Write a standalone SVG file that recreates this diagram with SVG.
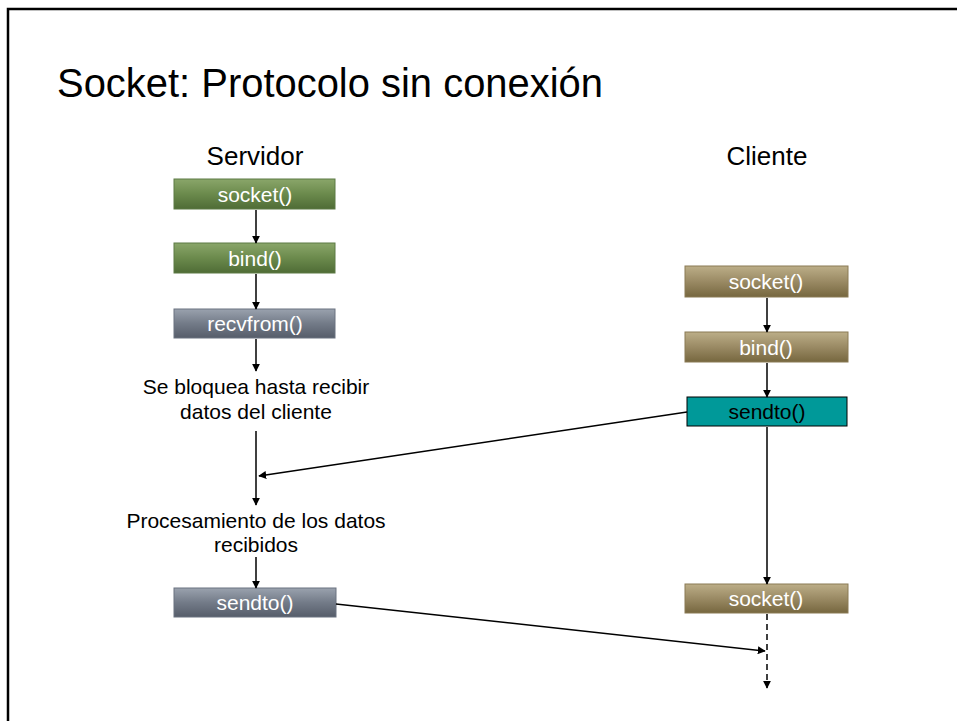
<svg xmlns="http://www.w3.org/2000/svg" width="957" height="721" viewBox="0 0 957 721">
  <style>
    .lbl { font-family: "Liberation Sans", Arial, sans-serif; font-size: 21px; fill: #ffffff; text-anchor: middle; }
    .lbl.dark { fill: #000000; }
    .txt { font-family: "Liberation Sans", Arial, sans-serif; font-size: 21px; fill: #000000; text-anchor: middle; }
    .head { font-family: "Liberation Sans", Arial, sans-serif; font-size: 26px; fill: #000000; text-anchor: middle; }
    .edge { stroke: #000000; stroke-width: 1.5; fill: none; marker-end: url(#arrow); }
    .dash { stroke-dasharray: 6 4; }
    .box { stroke-width: 1; }
  </style>
  <defs>
    <linearGradient id="gGreen" x1="0" y1="0" x2="0" y2="1">
      <stop offset="0" stop-color="#8aa66a"/>
      <stop offset="0.5" stop-color="#6b8a4c"/>
      <stop offset="1" stop-color="#4f6c36"/>
    </linearGradient>
    <linearGradient id="gSlate" x1="0" y1="0" x2="0" y2="1">
      <stop offset="0" stop-color="#9aa2ae"/>
      <stop offset="0.5" stop-color="#737b88"/>
      <stop offset="1" stop-color="#565d6a"/>
    </linearGradient>
    <linearGradient id="gTan" x1="0" y1="0" x2="0" y2="1">
      <stop offset="0" stop-color="#bcae88"/>
      <stop offset="0.5" stop-color="#9a8a64"/>
      <stop offset="1" stop-color="#76673f"/>
    </linearGradient>
    <marker id="arrow" viewBox="0 0 10 10" refX="9" refY="5" markerWidth="8" markerHeight="8" orient="auto" markerUnits="userSpaceOnUse">
      <path d="M0,0 L10,5 L0,10 z" fill="#000000"/>
    </marker>
  </defs>

  <rect width="957" height="721" fill="#ffffff"/>
  <!-- slide frame -->
  <path d="M8,721 L8,9 L957,9" stroke="#000000" stroke-width="2.5" fill="none"/>

  <text x="57" y="97" font-family="'Liberation Sans', Arial, sans-serif" font-size="41" fill="#000000" textLength="546" lengthAdjust="spacingAndGlyphs">Socket: Protocolo sin conexión</text>

  <text class="head" x="255" y="165">Servidor</text>
  <text class="head" x="767" y="165">Cliente</text>

  <!-- server side -->
  <g id="srv-socket">
    <rect class="box" x="174" y="179" width="161" height="30" fill="url(#gGreen)" stroke="#5d7a45"/>
    <text class="lbl" x="255" y="202">socket()</text>
  </g>
  <g id="srv-bind">
    <rect class="box" x="174" y="243" width="161" height="30" fill="url(#gGreen)" stroke="#5d7a45"/>
    <text class="lbl" x="255" y="266">bind()</text>
  </g>
  <g id="srv-recvfrom">
    <rect class="box" x="174" y="309" width="161" height="29" fill="url(#gSlate)" stroke="#6a7280"/>
    <text class="lbl" x="255" y="331">recvfrom()</text>
  </g>
  <g id="srv-wait">
    <text class="txt" x="256" y="394">Se bloquea hasta recibir</text>
    <text class="txt" x="256" y="419">datos del cliente</text>
  </g>
  <g id="srv-process">
    <text class="txt" x="256" y="528">Procesamiento de los datos</text>
    <text class="txt" x="256" y="552">recibidos</text>
  </g>
  <g id="srv-sendto">
    <rect class="box" x="174" y="588" width="162" height="29" fill="url(#gSlate)" stroke="#6a7280"/>
    <text class="lbl" x="255" y="610">sendto()</text>
  </g>

  <!-- client side -->
  <g id="cli-socket">
    <rect class="box" x="685" y="266" width="163" height="31" fill="url(#gTan)" stroke="#8a7a55"/>
    <text class="lbl" x="766" y="289">socket()</text>
  </g>
  <g id="cli-bind">
    <rect class="box" x="685" y="332" width="163" height="30" fill="url(#gTan)" stroke="#8a7a55"/>
    <text class="lbl" x="766" y="355">bind()</text>
  </g>
  <g id="cli-sendto">
    <rect class="box" x="687" y="397" width="160" height="29" fill="#009999" stroke="#000000"/>
    <text class="lbl dark" x="767" y="419">sendto()</text>
  </g>
  <g id="cli-socket2">
    <rect class="box" x="685" y="584" width="163" height="29" fill="url(#gTan)" stroke="#8a7a55"/>
    <text class="lbl" x="766" y="606">socket()</text>
  </g>

  <!-- connectors -->
  <g id="connectors">
    <line class="edge" x1="256" y1="210" x2="256" y2="243"/>
    <line class="edge" x1="256" y1="274" x2="256" y2="309"/>
    <line class="edge" x1="256" y1="339" x2="256" y2="371"/>
    <line class="edge" x1="256" y1="431" x2="256" y2="505"/>
    <line class="edge" x1="256" y1="557" x2="256" y2="588"/>
    <line class="edge" x1="687" y1="412" x2="259" y2="476"/>
    <line class="edge" x1="767" y1="298" x2="767" y2="332"/>
    <line class="edge" x1="767" y1="363" x2="767" y2="397"/>
    <line class="edge" x1="767" y1="427" x2="767" y2="584"/>
    <line class="edge dash" x1="767" y1="614" x2="767" y2="688"/>
    <line class="edge" x1="336" y1="604" x2="765" y2="651"/>
  </g>
</svg>
